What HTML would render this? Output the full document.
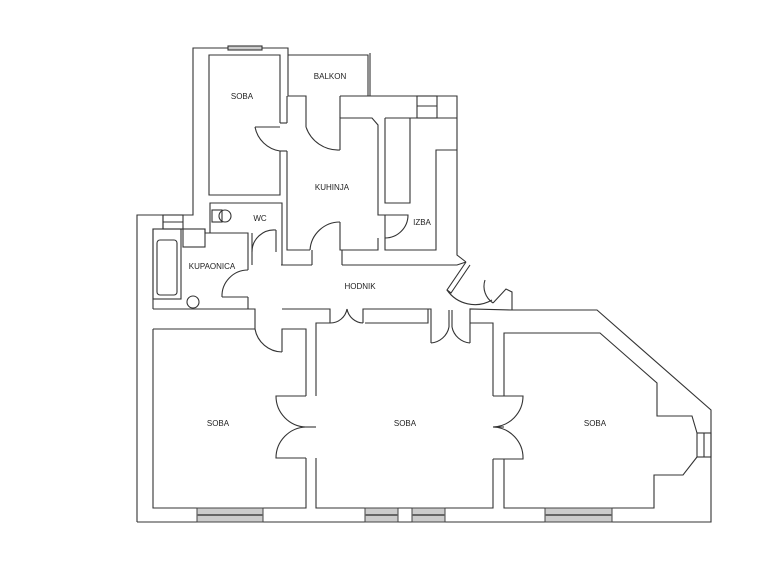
<!DOCTYPE html>
<html><head><meta charset="utf-8"><style>
html,body{margin:0;padding:0;background:#fff;}
svg{display:block}
text{font-family:"Liberation Sans",sans-serif;font-size:8px;fill:#222;text-anchor:middle}
</style></head><body>
<svg width="758" height="564" viewBox="0 0 758 564" xmlns="http://www.w3.org/2000/svg">
<g fill="none" stroke="#333" stroke-width="1.1">
<polyline points="137,522 137,215 193,215 193,48 288,48 288,96 306,96 306,127"/>
<polyline points="288,55 368,55 368,96 340,96 457,96 457,255 466,262"/>
<line x1="370" y1="53" x2="370" y2="96"/>
<polyline points="493,303 506,289 512,292 512,310 597,310 711,410 711,522 137,522"/>
<rect x="228" y="46" width="34" height="4" fill="#ccc"/>
<polyline points="280,123 280,55 209,55 209,195 280,195 280,151"/>
<polyline points="280,123 287,123"/><polyline points="280,151 287,151"/>
<path d="M255,127 A30,30 0 0 0 280,151" />
<line x1="255" y1="127" x2="280" y2="127"/>
<polyline points="287,96 287,123"/>
<polyline points="287,151 287,250 310,250"/>
<path d="M306,127 A34,34 0 0 0 340,150"/>
<polyline points="340,150 340,118 372,118 378,125 378,215 385,215"/>
<line x1="340" y1="96" x2="340" y2="118"/>
<polyline points="378,238 378,250 340,250 340,222"/>
<path d="M310,250 A30,30 0 0 1 340,222"/>
<polyline points="385,118 385,203 410,203 410,118"/>
<polyline points="385,118 457,118"/>
<rect x="417" y="96" width="20" height="22"/>
<line x1="417" y1="106" x2="437" y2="106"/>
<polyline points="385,215 385,238"/>
<path d="M385,238 A23,23 0 0 0 408,215 L385,215"/>
<polyline points="385,238 385,250 436,250 436,150 457,150"/>
<polyline points="281,265 312,265"/><polyline points="342,265 457,265 466,262"/>
<line x1="312" y1="265" x2="312" y2="250"/><line x1="342" y1="265" x2="342" y2="250"/>
<polyline points="466,262 447,290 451,293 470,265"/>
<path d="M447,290 A34,34 0 0 0 492,300"/>
<path d="M485,280 A20,20 0 0 0 493,303"/>
<polyline points="210,233 210,203 282,203 282,265"/>
<polyline points="210,233 248,233 248,265"/>
<polyline points="252,233 252,265"/>
<path d="M252,252 A22,22 0 0 1 276,230"/>
<line x1="276" y1="230" x2="276" y2="252"/>
<circle cx="225" cy="216" r="6"/><rect x="212" y="210" width="10" height="12"/>
<polyline points="153,309 153,229 163,229 163,215"/>
<rect x="163" y="215" width="20" height="14"/>
<line x1="163" y1="222" x2="183" y2="222"/>
<polyline points="183,229 205,229 205,233 248,233"/>
<rect x="153" y="229" width="28" height="70"/>
<rect x="157" y="240" width="20" height="55" rx="3"/>
<rect x="183" y="229" width="22" height="18"/>
<circle cx="193" cy="302" r="6"/>
<polyline points="153,309 248,309 248,297"/>
<path d="M222,297 A26,26 0 0 1 248,270"/>
<line x1="222" y1="297" x2="248" y2="297"/>
<line x1="248" y1="270" x2="248" y2="265"/>
<polyline points="153,329 255,329 255,309 248,309"/>
<path d="M255,329 A28,28 0 0 0 282,352"/>
<polyline points="282,352 282,329 306,329 306,396"/>
<polyline points="282,309 330,309 330,323 316,323 316,396"/>
<path d="M330,323 A17,17 0 0 0 347,309"/>
<path d="M363,323 A17,17 0 0 1 347,309"/>
<polyline points="363,323 363,309 428,309 428,323 365,323"/>
<polyline points="428,309 431,309 431,343"/>
<polyline points="470,343 470,309 512,310"/>
<line x1="449" y1="310" x2="449" y2="327"/><line x1="452" y1="310" x2="452" y2="327"/>
<path d="M431,343 A20,20 0 0 0 449,327"/>
<path d="M470,343 A20,20 0 0 1 452,327"/>
<polyline points="470,323 493,323 493,396"/>
<polyline points="306,458 306,508 153,508 153,329"/>
<polyline points="316,458 316,508 493,508 493,459"/>
<path d="M306,427 A31,31 0 0 1 276,396 L306,396"/>
<path d="M306,427 A31,31 0 0 0 276,458 L306,458"/>
<line x1="306" y1="427" x2="316" y2="427"/>
<path d="M493,427 A31,31 0 0 0 523,396 L493,396"/>
<path d="M493,427 A31,31 0 0 1 523,459 L493,459"/>
<line x1="493" y1="427" x2="504" y2="427"/>
<polyline points="504,396 504,333 600,333 657,383 657,416 692,416 697,433"/>
<rect x="697" y="433" width="14" height="24"/>
<line x1="704" y1="433" x2="704" y2="457"/>
<polyline points="697,457 683,475 654,475 654,508 504,508 504,459"/>
</g>
<g fill="#ccc" stroke="#444" stroke-width="1">
<rect x="197" y="508" width="66" height="14"/>
<rect x="365" y="508" width="33" height="14"/>
<rect x="412" y="508" width="33" height="14"/>
<rect x="545" y="508" width="67" height="14"/>
</g>
<g stroke="#666" stroke-width="2">
<line x1="197" y1="515" x2="263" y2="515"/><line x1="365" y1="515" x2="398" y2="515"/>
<line x1="412" y1="515" x2="445" y2="515"/><line x1="545" y1="515" x2="612" y2="515"/>
</g>
<text x="242" y="99">SOBA</text>
<text x="330" y="79">BALKON</text>
<text x="332" y="190">KUHINJA</text>
<text x="260" y="221">WC</text>
<text x="422" y="225">IZBA</text>
<text x="212" y="269">KUPAONICA</text>
<text x="360" y="289">HODNIK</text>
<text x="218" y="426">SOBA</text>
<text x="405" y="426">SOBA</text>
<text x="595" y="426">SOBA</text>
</svg>
</body></html>
